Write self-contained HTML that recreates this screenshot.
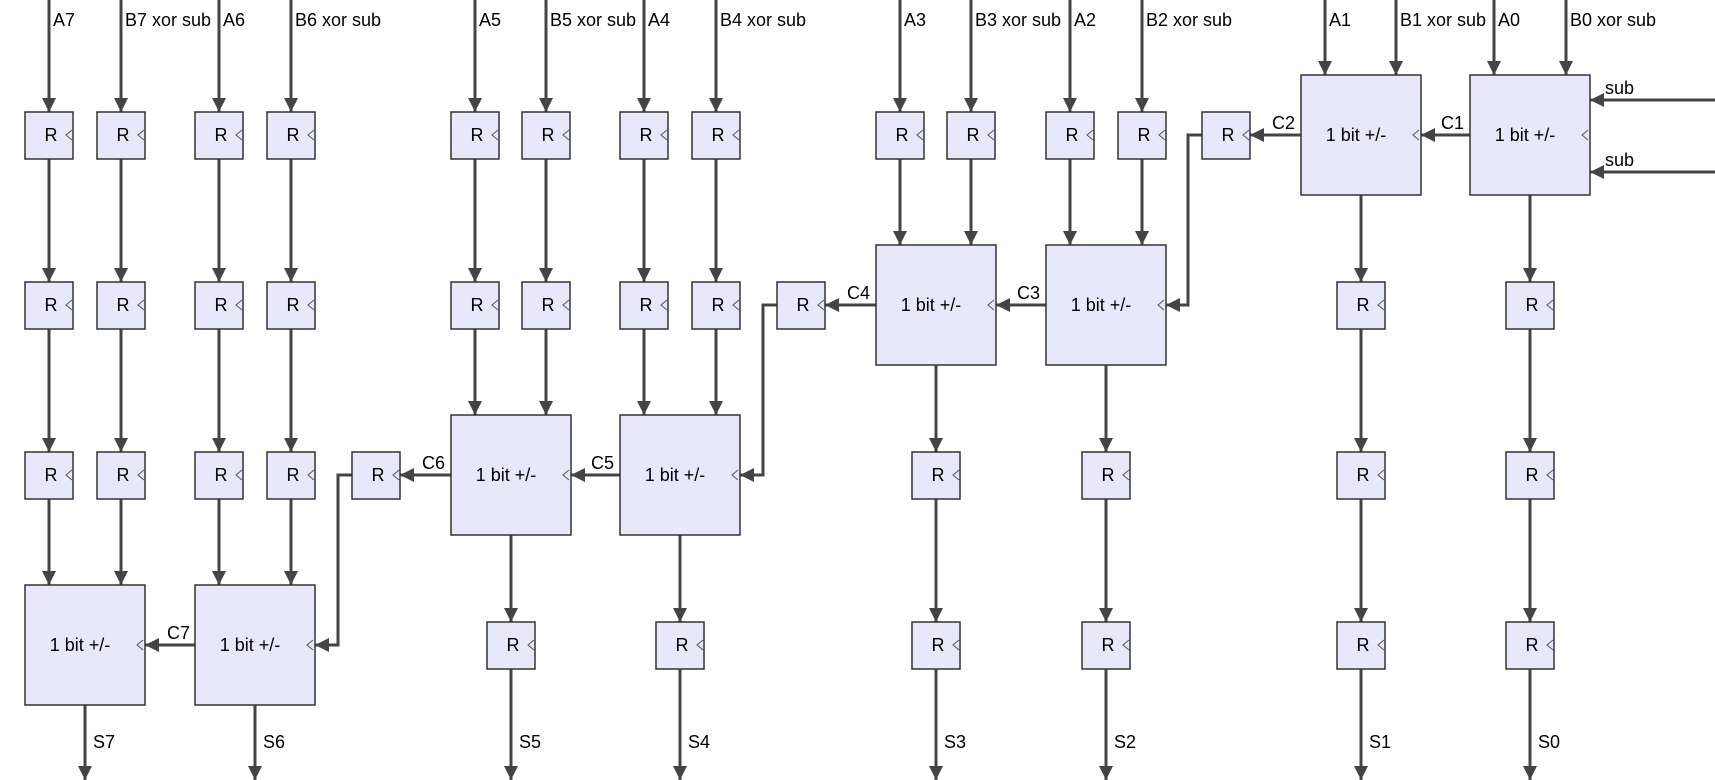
<!DOCTYPE html>
<html><head><meta charset="utf-8"><style>
html,body{margin:0;padding:0;background:#fff;}
svg{display:block;font-family:"Liberation Sans",Arial,sans-serif;font-size:18px;}
.w{stroke:#444;stroke-width:3;fill:none;}
.a{stroke:#444;stroke-width:3;fill:none;marker-end:url(#ar);}
.b{fill:#e8e8fb;stroke:#333;stroke-width:1.5;}
.ck{fill:none;stroke:#555;stroke-width:1;}
</style></head><body>
<svg width="1715" height="780" viewBox="0 0 1715 780" xmlns="http://www.w3.org/2000/svg">
<defs><marker id="ar" markerUnits="userSpaceOnUse" markerWidth="16" markerHeight="16" refX="14" refY="7" orient="auto"><path d="M0,0 L14,7 L0,14 z" fill="#444"/></marker></defs>

<g>
<path class="a" d="M49,0V112"/><path class="a" d="M121,0V112"/><path class="a" d="M219,0V112"/><path class="a" d="M291,0V112"/>
<path class="a" d="M475,0V112"/><path class="a" d="M546,0V112"/><path class="a" d="M644,0V112"/><path class="a" d="M716,0V112"/>
<path class="a" d="M900,0V112"/><path class="a" d="M971,0V112"/><path class="a" d="M1070,0V112"/><path class="a" d="M1142,0V112"/>
<path class="a" d="M1325,0V75"/><path class="a" d="M1396,0V75"/><path class="a" d="M1494,0V75"/><path class="a" d="M1566,0V75"/>
</g>
<g>
<text x="53" y="26">A7</text><text x="125" y="26">B7 xor sub</text><text x="223" y="26">A6</text><text x="295" y="26">B6 xor sub</text>
<text x="479" y="26">A5</text><text x="550" y="26">B5 xor sub</text><text x="648" y="26">A4</text><text x="720" y="26">B4 xor sub</text>
<text x="904" y="26">A3</text><text x="975" y="26">B3 xor sub</text><text x="1074" y="26">A2</text><text x="1146" y="26">B2 xor sub</text>
<text x="1329" y="26">A1</text><text x="1400" y="26">B1 xor sub</text><text x="1498" y="26">A0</text><text x="1570" y="26">B0 xor sub</text>
</g>

<g>
<path class="a" d="M49,159V282"/><path class="a" d="M121,159V282"/><path class="a" d="M219,159V282"/><path class="a" d="M291,159V282"/>
<path class="a" d="M49,329V452"/><path class="a" d="M121,329V452"/><path class="a" d="M219,329V452"/><path class="a" d="M291,329V452"/>
<path class="a" d="M49,499V585"/><path class="a" d="M121,499V585"/><path class="a" d="M219,499V585"/><path class="a" d="M291,499V585"/>
<path class="a" d="M85,705V780"/><path class="a" d="M255,705V780"/>

<path class="a" d="M475,159V282"/><path class="a" d="M546,159V282"/><path class="a" d="M644,159V282"/><path class="a" d="M716,159V282"/>
<path class="a" d="M475,329V415"/><path class="a" d="M546,329V415"/><path class="a" d="M644,329V415"/><path class="a" d="M716,329V415"/>
<path class="a" d="M511,535V622"/><path class="a" d="M680,535V622"/>
<path class="a" d="M511,669V780"/><path class="a" d="M680,669V780"/>

<path class="a" d="M900,159V245"/><path class="a" d="M971,159V245"/><path class="a" d="M1070,159V245"/><path class="a" d="M1142,159V245"/>
<path class="a" d="M936,365V452"/><path class="a" d="M1106,365V452"/>
<path class="a" d="M936,499V622"/><path class="a" d="M1106,499V622"/>
<path class="a" d="M936,669V780"/><path class="a" d="M1106,669V780"/>

<path class="a" d="M1361,195V282"/><path class="a" d="M1530,195V282"/>
<path class="a" d="M1361,329V452"/><path class="a" d="M1530,329V452"/>
<path class="a" d="M1361,499V622"/><path class="a" d="M1530,499V622"/>
<path class="a" d="M1361,669V780"/><path class="a" d="M1530,669V780"/>
</g>

<g>
<path class="a" d="M1715,100H1590"/><path class="a" d="M1715,172H1590"/>
<path class="a" d="M1470,135H1421"/>
<path class="a" d="M1301,135H1250"/>
<path class="a" d="M1202,135H1188V305H1166"/>
<path class="a" d="M1046,305H996"/>
<path class="a" d="M876,305H825"/>
<path class="a" d="M777,305H763V475H740"/>
<path class="a" d="M620,475H571"/>
<path class="a" d="M451,475H400"/>
<path class="a" d="M352,475H338V645H315"/>
<path class="a" d="M195,645H145"/>
</g>
<g>
<text x="1605" y="94">sub</text><text x="1605" y="166">sub</text>
<text x="1464" y="129" text-anchor="end">C1</text>
<text x="1295" y="129" text-anchor="end">C2</text>
<text x="1040" y="299" text-anchor="end">C3</text>
<text x="870" y="299" text-anchor="end">C4</text>
<text x="614" y="469" text-anchor="end">C5</text>
<text x="445" y="469" text-anchor="end">C6</text>
<text x="190" y="639" text-anchor="end">C7</text>
</g>
<g>
<text x="93" y="748">S7</text><text x="263" y="748">S6</text><text x="519" y="748">S5</text><text x="688" y="748">S4</text>
<text x="944" y="748">S3</text><text x="1114" y="748">S2</text><text x="1369" y="748">S1</text><text x="1538" y="748">S0</text>
</g>

<g>
<rect class="b" x="25" y="585" width="120" height="120"/><polyline class="ck" points="143,640 137,645 143,650"/><text x="80" y="651" text-anchor="middle">1 bit +/-</text>
<rect class="b" x="195" y="585" width="120" height="120"/><polyline class="ck" points="313,640 307,645 313,650"/><text x="250" y="651" text-anchor="middle">1 bit +/-</text>
<rect class="b" x="451" y="415" width="120" height="120"/><polyline class="ck" points="569,470 563,475 569,480"/><text x="506" y="481" text-anchor="middle">1 bit +/-</text>
<rect class="b" x="620" y="415" width="120" height="120"/><polyline class="ck" points="738,470 732,475 738,480"/><text x="675" y="481" text-anchor="middle">1 bit +/-</text>
<rect class="b" x="876" y="245" width="120" height="120"/><polyline class="ck" points="994,300 988,305 994,310"/><text x="931" y="311" text-anchor="middle">1 bit +/-</text>
<rect class="b" x="1046" y="245" width="120" height="120"/><polyline class="ck" points="1164,300 1158,305 1164,310"/><text x="1101" y="311" text-anchor="middle">1 bit +/-</text>
<rect class="b" x="1301" y="75" width="120" height="120"/><polyline class="ck" points="1419,130 1413,135 1419,140"/><text x="1356" y="141" text-anchor="middle">1 bit +/-</text>
<rect class="b" x="1470" y="75" width="120" height="120"/><polyline class="ck" points="1588,130 1582,135 1588,140"/><text x="1525" y="141" text-anchor="middle">1 bit +/-</text>
</g>

<g>
<rect class="b" x="25" y="112" width="48" height="47"/><polyline class="ck" points="72,130 66,135 72,140"/><text x="51" y="141" text-anchor="middle">R</text>
<rect class="b" x="97" y="112" width="48" height="47"/><polyline class="ck" points="144,130 138,135 144,140"/><text x="123" y="141" text-anchor="middle">R</text>
<rect class="b" x="195" y="112" width="48" height="47"/><polyline class="ck" points="242,130 236,135 242,140"/><text x="221" y="141" text-anchor="middle">R</text>
<rect class="b" x="267" y="112" width="48" height="47"/><polyline class="ck" points="314,130 308,135 314,140"/><text x="293" y="141" text-anchor="middle">R</text>
<rect class="b" x="451" y="112" width="48" height="47"/><polyline class="ck" points="498,130 492,135 498,140"/><text x="477" y="141" text-anchor="middle">R</text>
<rect class="b" x="522" y="112" width="48" height="47"/><polyline class="ck" points="569,130 563,135 569,140"/><text x="548" y="141" text-anchor="middle">R</text>
<rect class="b" x="620" y="112" width="48" height="47"/><polyline class="ck" points="667,130 661,135 667,140"/><text x="646" y="141" text-anchor="middle">R</text>
<rect class="b" x="692" y="112" width="48" height="47"/><polyline class="ck" points="739,130 733,135 739,140"/><text x="718" y="141" text-anchor="middle">R</text>
<rect class="b" x="876" y="112" width="48" height="47"/><polyline class="ck" points="923,130 917,135 923,140"/><text x="902" y="141" text-anchor="middle">R</text>
<rect class="b" x="947" y="112" width="48" height="47"/><polyline class="ck" points="994,130 988,135 994,140"/><text x="973" y="141" text-anchor="middle">R</text>
<rect class="b" x="1046" y="112" width="48" height="47"/><polyline class="ck" points="1093,130 1087,135 1093,140"/><text x="1072" y="141" text-anchor="middle">R</text>
<rect class="b" x="1118" y="112" width="48" height="47"/><polyline class="ck" points="1165,130 1159,135 1165,140"/><text x="1144" y="141" text-anchor="middle">R</text>
<rect class="b" x="1202" y="112" width="48" height="47"/><polyline class="ck" points="1249,130 1243,135 1249,140"/><text x="1228" y="141" text-anchor="middle">R</text>
<rect class="b" x="25" y="282" width="48" height="47"/><polyline class="ck" points="72,300 66,305 72,310"/><text x="51" y="311" text-anchor="middle">R</text>
<rect class="b" x="97" y="282" width="48" height="47"/><polyline class="ck" points="144,300 138,305 144,310"/><text x="123" y="311" text-anchor="middle">R</text>
<rect class="b" x="195" y="282" width="48" height="47"/><polyline class="ck" points="242,300 236,305 242,310"/><text x="221" y="311" text-anchor="middle">R</text>
<rect class="b" x="267" y="282" width="48" height="47"/><polyline class="ck" points="314,300 308,305 314,310"/><text x="293" y="311" text-anchor="middle">R</text>
<rect class="b" x="451" y="282" width="48" height="47"/><polyline class="ck" points="498,300 492,305 498,310"/><text x="477" y="311" text-anchor="middle">R</text>
<rect class="b" x="522" y="282" width="48" height="47"/><polyline class="ck" points="569,300 563,305 569,310"/><text x="548" y="311" text-anchor="middle">R</text>
<rect class="b" x="620" y="282" width="48" height="47"/><polyline class="ck" points="667,300 661,305 667,310"/><text x="646" y="311" text-anchor="middle">R</text>
<rect class="b" x="692" y="282" width="48" height="47"/><polyline class="ck" points="739,300 733,305 739,310"/><text x="718" y="311" text-anchor="middle">R</text>
<rect class="b" x="777" y="282" width="48" height="47"/><polyline class="ck" points="824,300 818,305 824,310"/><text x="803" y="311" text-anchor="middle">R</text>
<rect class="b" x="1337" y="282" width="48" height="47"/><polyline class="ck" points="1384,300 1378,305 1384,310"/><text x="1363" y="311" text-anchor="middle">R</text>
<rect class="b" x="1506" y="282" width="48" height="47"/><polyline class="ck" points="1553,300 1547,305 1553,310"/><text x="1532" y="311" text-anchor="middle">R</text>
<rect class="b" x="25" y="452" width="48" height="47"/><polyline class="ck" points="72,470 66,475 72,480"/><text x="51" y="481" text-anchor="middle">R</text>
<rect class="b" x="97" y="452" width="48" height="47"/><polyline class="ck" points="144,470 138,475 144,480"/><text x="123" y="481" text-anchor="middle">R</text>
<rect class="b" x="195" y="452" width="48" height="47"/><polyline class="ck" points="242,470 236,475 242,480"/><text x="221" y="481" text-anchor="middle">R</text>
<rect class="b" x="267" y="452" width="48" height="47"/><polyline class="ck" points="314,470 308,475 314,480"/><text x="293" y="481" text-anchor="middle">R</text>
<rect class="b" x="352" y="452" width="48" height="47"/><polyline class="ck" points="399,470 393,475 399,480"/><text x="378" y="481" text-anchor="middle">R</text>
<rect class="b" x="912" y="452" width="48" height="47"/><polyline class="ck" points="959,470 953,475 959,480"/><text x="938" y="481" text-anchor="middle">R</text>
<rect class="b" x="1082" y="452" width="48" height="47"/><polyline class="ck" points="1129,470 1123,475 1129,480"/><text x="1108" y="481" text-anchor="middle">R</text>
<rect class="b" x="1337" y="452" width="48" height="47"/><polyline class="ck" points="1384,470 1378,475 1384,480"/><text x="1363" y="481" text-anchor="middle">R</text>
<rect class="b" x="1506" y="452" width="48" height="47"/><polyline class="ck" points="1553,470 1547,475 1553,480"/><text x="1532" y="481" text-anchor="middle">R</text>
<rect class="b" x="487" y="622" width="48" height="47"/><polyline class="ck" points="534,640 528,645 534,650"/><text x="513" y="651" text-anchor="middle">R</text>
<rect class="b" x="656" y="622" width="48" height="47"/><polyline class="ck" points="703,640 697,645 703,650"/><text x="682" y="651" text-anchor="middle">R</text>
<rect class="b" x="912" y="622" width="48" height="47"/><polyline class="ck" points="959,640 953,645 959,650"/><text x="938" y="651" text-anchor="middle">R</text>
<rect class="b" x="1082" y="622" width="48" height="47"/><polyline class="ck" points="1129,640 1123,645 1129,650"/><text x="1108" y="651" text-anchor="middle">R</text>
<rect class="b" x="1337" y="622" width="48" height="47"/><polyline class="ck" points="1384,640 1378,645 1384,650"/><text x="1363" y="651" text-anchor="middle">R</text>
<rect class="b" x="1506" y="622" width="48" height="47"/><polyline class="ck" points="1553,640 1547,645 1553,650"/><text x="1532" y="651" text-anchor="middle">R</text>
</g>
</svg>
</body></html>
